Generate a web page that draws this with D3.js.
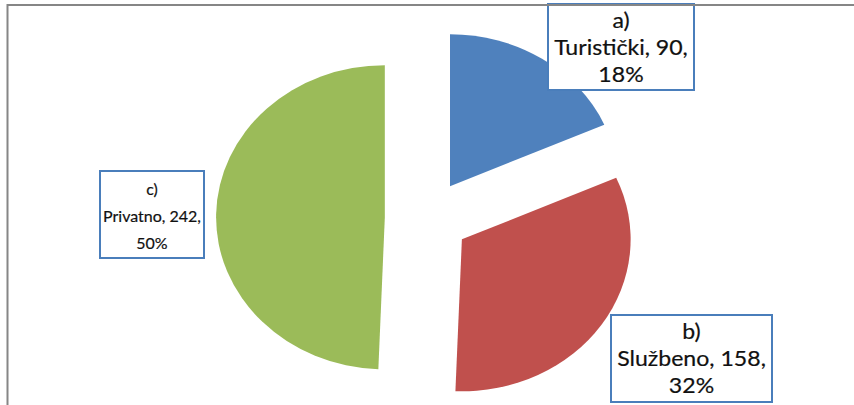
<!DOCTYPE html>
<html>
<head>
<meta charset="utf-8">
<script src="https://cdn.jsdelivr.net/npm/d3@7"></script>
<style>
  body { margin: 0; background: #fff; }
  svg { display: block; }
</style>
</head>
<body>
<div class="chart"></div>
<script>
(function() {

  // chart data
  let letters = ['a)', 'b)', 'c)'];
  let categories = ['Turistički', 'Službeno', 'Privatno'];
  let values = [90, 158, 242];
  let percents = ['18%', '32%', '50%'];
  let colors = ['#4F81BD', '#C0504D', '#9BBB59'];

  let width = 854, height = 405;

  let svgContainer = d3.select('.chart').append('svg')
    .attr('width', width)
    .attr('height', height);

  let data = categories.map((c, i) => ({
    letter: letters[i], name: c, value: values[i], pct: percents[i], color: colors[i]
  }));

  // pie geometry (the picture is stretched horizontally a little)
  let cx = 427, cy = 218, r = 152, stretch = 1.11, explode = 38;

  let pie = d3.pie().sort(null).value((d) => d.value);
  let arc = d3.arc().innerRadius(0).outerRadius(r);

  let pieGroup = svgContainer.append('g')
    .attr('transform', 'translate(' + cx + ',' + cy + ') scale(' + stretch + ',1)');

  pieGroup.selectAll('.slice')
    .data(pie(data))
    .enter()
    .append('path')
      .attr('class', 'slice')
      .attr('d', arc)
      .attr('fill', (d) => d.data.color)
      .attr('transform', function(d) {
        let mid = (d.startAngle + d.endAngle) / 2;
        return 'translate(' + (explode * Math.sin(mid)) + ',' + (-explode * Math.cos(mid)) + ')';
      });

  // label boxes: x0, x1, y0, y1, font size, horizontal stretch
  let boxes = [
    [548, 694, 4, 90, 21, 1.1],
    [611, 772, 315, 402, 21, 1.1],
    [100, 204, 171, 258, 16, 1.0]
  ];

  let labels = svgContainer.selectAll('.label')
    .data(data)
    .enter()
    .append('g')
      .attr('class', 'label');

  labels.append('rect')
    .attr('x', (d, i) => boxes[i][0])
    .attr('y', (d, i) => boxes[i][2])
    .attr('width', (d, i) => boxes[i][1] - boxes[i][0])
    .attr('height', (d, i) => boxes[i][3] - boxes[i][2])
    .attr('fill', '#fff')
    .attr('stroke', '#4A7EBB')
    .attr('stroke-width', 2);

  labels.each(function(d, i) {
    let b = boxes[i];
    let mx = (b[0] + b[1]) / 2;
    let lines = [d.letter, d.name + ', ' + d.value + ',', d.pct];
    let top = b[2] + 24;
    d3.select(this).append('g')
      .attr('transform', 'translate(' + mx + ',0) scale(' + b[5] + ',1)')
      .selectAll('text')
      .data(lines)
      .enter()
      .append('text')
        .attr('x', 0)
        .attr('y', (t, j) => top + j * 27)
        .attr('text-anchor', 'middle')
        .attr('font-family', 'Lato, sans-serif')
        .attr('font-size', b[4])
        .attr('fill', '#111')
        .attr('stroke', '#111')
        .attr('stroke-width', 0.2)
        .text((t) => t);
  });

  // chart area border (runs past the right and bottom edge)
  svgContainer.append('rect')
    .attr('x', 7.5)
    .attr('y', 5)
    .attr('width', 900)
    .attr('height', 450)
    .attr('fill', 'none')
    .attr('stroke', '#868686')
    .attr('stroke-width', 2);

})();
</script>
</body>
</html>
